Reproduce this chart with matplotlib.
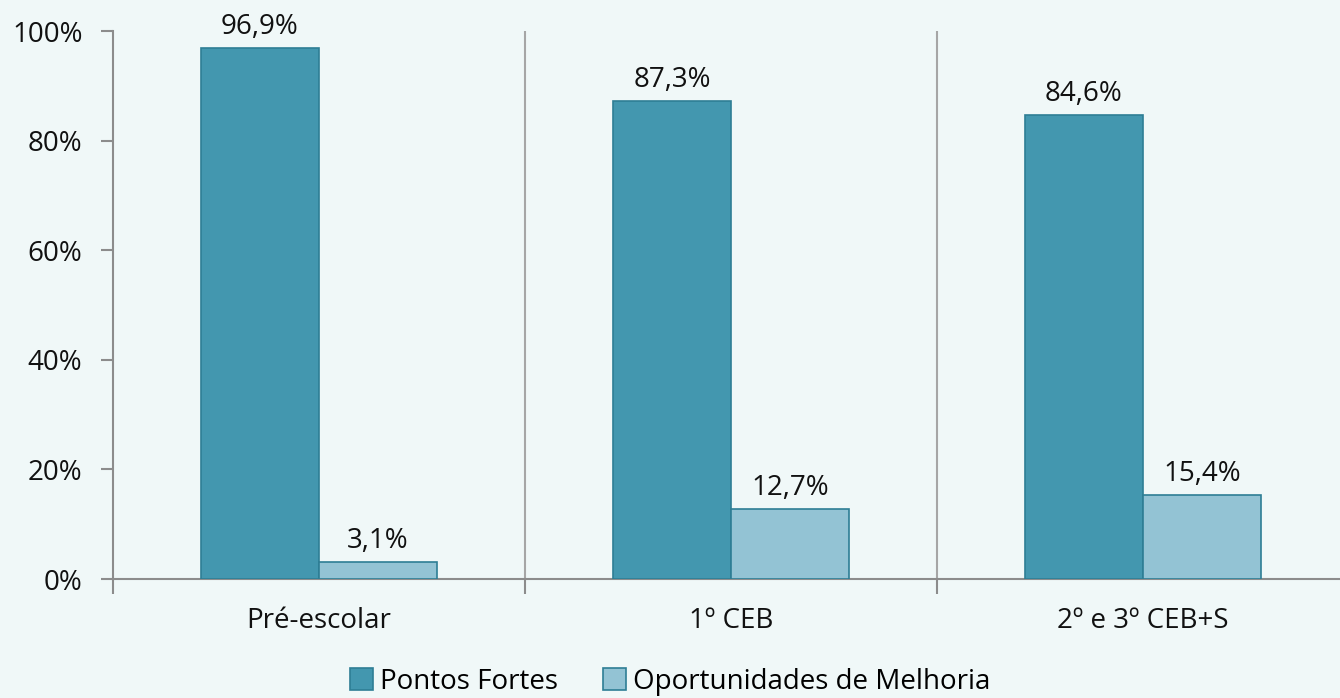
import numpy as np
import matplotlib.pyplot as plt
from matplotlib.ticker import FixedLocator, NullFormatter

plt.rcParams['font.family'] = ['Open Sans', 'DejaVu Sans']

# Data
categories = ["Pré-escolar", "1º CEB", "2º e 3º CEB+S"]
pontos_fortes = [96.9, 87.3, 84.6]
oportunidades = [3.1, 12.7, 15.4]
series_names = ["Pontos Fortes", "Oportunidades de Melhoria"]

bg = "#F0F8F8"
dark = "#4397AF"
light = "#93C3D4"
edge = "#2E7E95"
axis_grey = "#8C8C8C"
fs = 20

fig = plt.figure(figsize=(13.4, 6.98), dpi=100, facecolor=bg)
ax = fig.add_axes([113 / 1340, 1 - 579 / 698, 1236 / 1340, 548 / 698])
ax.set_facecolor(bg)

x = np.arange(len(categories))
w = 0.287
b1 = ax.bar(x - w / 2, pontos_fortes, w, color=dark, edgecolor=edge, linewidth=1.2,
            label=series_names[0], zorder=3)
b2 = ax.bar(x + w / 2, oportunidades, w, color=light, edgecolor=edge, linewidth=1.2,
            label=series_names[1], zorder=3)

for bars in (b1, b2):
    ax.bar_label(bars, labels=[f"{v:.1f}%".replace(".", ",") for v in bars.datavalues],
                 padding=5, fontsize=fs, color="#111111")

ax.set_xlim(-0.5, len(categories) - 0.5)
ax.set_ylim(0, 100)
ax.set_yticks([0, 20, 40, 60, 80, 100])
ax.set_yticklabels([f"{t}%" for t in range(0, 101, 20)], fontsize=fs, color="#111111")

# category boundaries as major ticks / vertical lines, labels at centers
ax.xaxis.set_major_locator(FixedLocator(np.arange(len(categories) + 1) - 0.5))
ax.xaxis.set_major_formatter(NullFormatter())
ax.xaxis.set_minor_locator(FixedLocator(x))
ax.set_xticklabels(categories, minor=True, fontsize=fs, color="#111111")
ax.tick_params(axis="x", which="minor", length=0, pad=20)
ax.tick_params(axis="x", which="major", length=11, width=1.5, color=axis_grey, direction="out")
ax.tick_params(axis="y", length=9, width=1.5, color=axis_grey, pad=13)
for b in np.arange(1, len(categories)) - 0.5:
    ax.axvline(b, color="#A6A6A6", linewidth=1.5, zorder=1)

for s in ("top", "right"):
    ax.spines[s].set_visible(False)
for s in ("left", "bottom"):
    ax.spines[s].set_color(axis_grey)
    ax.spines[s].set_linewidth(1.5)

fig.legend(handles=[b1, b2], labels=series_names, loc="center", bbox_to_anchor=(0.5, 1 - 682 / 698),
           ncol=2, frameon=False, fontsize=fs, handlelength=0.85, handleheight=0.85,
           handletextpad=0.25, columnspacing=1.6)

fig.savefig("out.png", dpi=100, facecolor=bg)
